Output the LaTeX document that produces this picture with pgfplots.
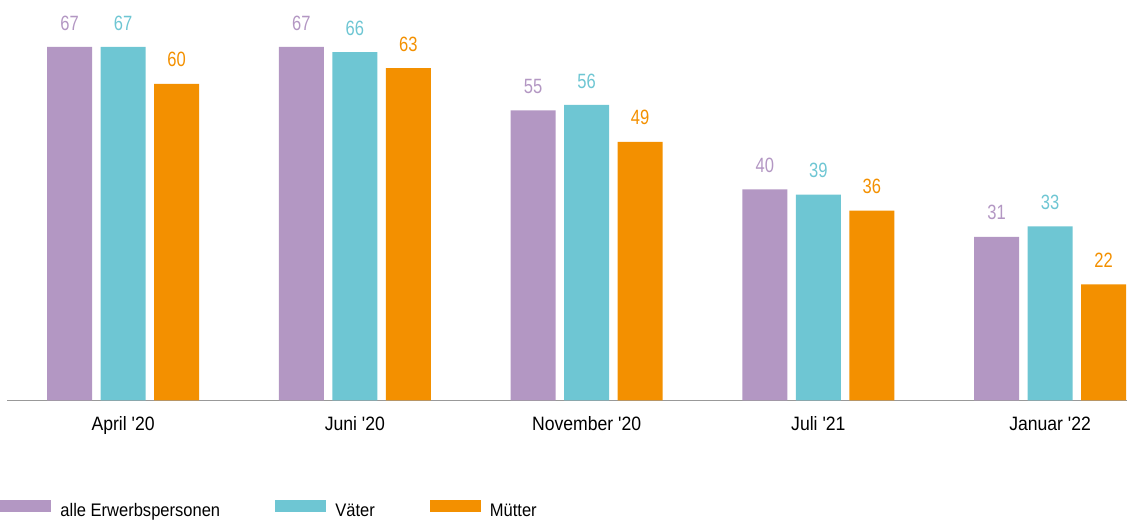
\documentclass[border=0pt]{standalone}
\usepackage{fontspec}
\setmainfont{Liberation Sans}[FakeStretch=0.91, Ligatures=TeXOff]
\newfontfamily\numfont{Liberation Sans}[FakeStretch=0.8]
\usepackage{pgfplots}
\pgfplotsset{compat=1.18}

\definecolor{lila}{RGB}{179,151,195}
\definecolor{tuerkis}{RGB}{110,198,211}
\definecolor{orange}{RGB}{243,144,0}

\begin{document}
\begin{tikzpicture}
\begin{axis}[
  scale only axis,
  width=839.25pt, height=300pt,
  xmin=-0.501, xmax=4.333,
  ymin=0, ymax=75.9,
  axis x line=bottom,
  axis y line=none,
  x axis line style={-, draw=black!40, line width=1.1pt},
  xtick={0,...,4},
  xticklabels={April '20, Juni '20, November '20, Juli '21, Januar '22},
  major tick length=0pt,
  xticklabel style={font=\fontsize{14.5}{16}\selectfont, yshift=-8.5pt},
  ybar=6.35pt,
  bar width=33.75pt,
  clip=false,
  /pgf/number format/assume math mode=true,
  nodes near coords,
  every node near coord/.append style={font=\numfont\fontsize{15.5}{17}\selectfont, yshift=9pt},
  legend columns=-1,
  legend style={draw=none, fill=none, inner sep=0pt, outer sep=0pt,
    at={(0,0)}, anchor=west, xshift=-5.25pt, yshift=-82.5pt,
    font=\fontsize{13.6}{15}\selectfont,
    /tikz/every odd column/.append style={column sep=5pt},
    /tikz/every even column/.append style={column sep=39pt}},
  legend image code/.code={\fill[#1] (0pt,-0.1em) rectangle (38.25pt,8.15pt);},
]

% alle Erwerbspersonen
\addplot[fill=lila, draw=none, every node near coord/.append style={text=lila}]
  coordinates {(0,67) (1,67) (2,55) (3,40) (4,31)};

% Vaeter
\addplot[fill=tuerkis, draw=none, every node near coord/.append style={text=tuerkis}]
  coordinates {(0,67) (1,66) (2,56) (3,39) (4,33)};

% Muetter
\addplot[fill=orange, draw=none, every node near coord/.append style={text=orange}]
  coordinates {(0,60) (1,63) (2,49) (3,36) (4,22)};

% Rand der Zeichenflaeche
\path (rel axis cs:0,1) ++(-6.75pt,0) -- (rel axis cs:1,1);

\legend{alle Erwerbspersonen, Väter, Mütter}
\end{axis}
\end{tikzpicture}
\end{document}
